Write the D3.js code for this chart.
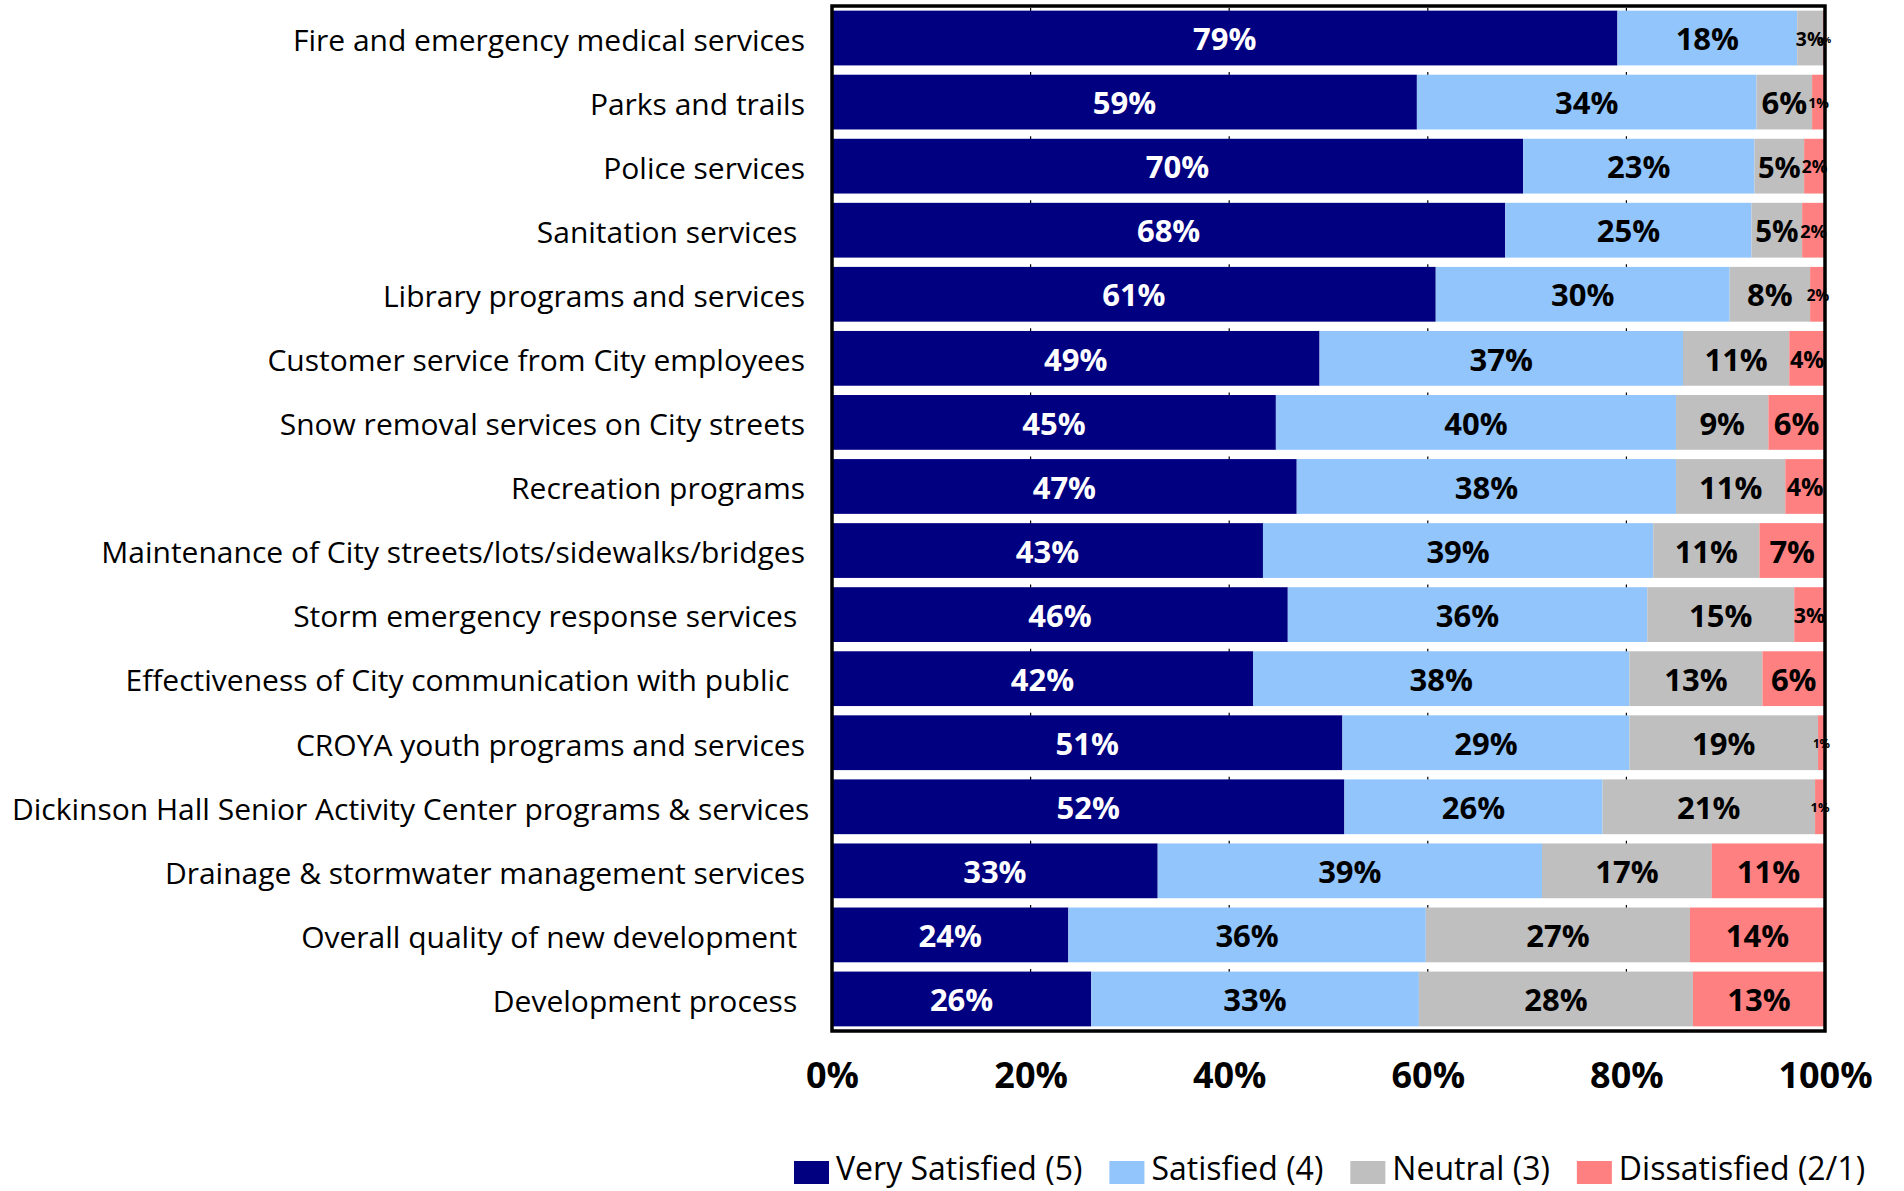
<!DOCTYPE html>
<html><head><meta charset="utf-8">
<script src="https://cdn.jsdelivr.net/npm/d3@7"></script>
<style>body{margin:0;background:#fff}svg{display:block}text{white-space:pre}</style>
</head><body><svg id="c" width="1904" height="1191"></svg>
<script>
const categories = [
  "Fire and emergency medical services",
  "Parks and trails",
  "Police services",
  "Sanitation services ",
  "Library programs and services",
  "Customer service from City employees",
  "Snow removal services on City streets",
  "Recreation programs",
  "Maintenance of City streets/lots/sidewalks/bridges",
  "Storm emergency response services ",
  "Effectiveness of City communication with public  ",
  "CROYA youth programs and services",
  "Dickinson Hall Senior Activity Center programs & services",
  "Drainage & stormwater management services",
  "Overall quality of new development ",
  "Development process "
];
const verySatisfied = [79.1, 58.9, 69.6, 67.8, 60.8, 49.1, 44.7, 46.8, 43.4, 45.9, 42.4, 51.4, 51.6, 32.8, 23.8, 26.1];
const satisfied     = [18.1, 34.2, 23.3, 24.8, 29.6, 36.6, 40.3, 38.2, 39.3, 36.2, 37.9, 28.9, 26.0, 38.7, 36.0, 33.0];
const neutral       = [ 2.6,  5.6,  5.0,  5.1,  8.1, 10.7,  9.3, 11.0, 10.7, 14.8, 13.4, 19.0, 21.4, 17.1, 26.6, 27.6];
const dissatisfied  = [ 0.2,  1.3,  2.1,  2.3,  1.6,  3.6,  5.7,  4.0,  6.6,  3.1,  6.3,  0.7,  1.0, 11.4, 13.6, 13.3];
const seriesNames  = ["Very Satisfied (5)", "Satisfied (4)", "Neutral (3)", "Dissatisfied (2/1)"];
const seriesColors = ["#000080", "#91C5FC", "#BFBFBF", "#FF8080"];
const labelColors  = ["#FFFFFF", "#000000", "#000000", "#000000"];
const xTicks = [0, 20, 40, 60, 80, 100];

const FONT = "'Open Sans', 'Liberation Sans', sans-serif";
const svg = d3.select("#c");
const plot = {left: 832, right: 1825, top: 6, bottom: 1031};

const x = d3.scaleLinear().domain([0, 100]).range([plot.left, plot.right]);
const y = d3.scaleBand().domain(categories).range([plot.top, plot.bottom]).paddingInner(0.145).paddingOuter(0.0725);

const seriesArrays = [verySatisfied, satisfied, neutral, dissatisfied];
const rows = categories.map((c, i) => {
  const r = {cat: c};
  seriesNames.forEach((s, j) => r[s] = seriesArrays[j][i]);
  return r;
});
const stacked = d3.stack().keys(seriesNames)(rows);

// dashed gridlines behind bars
const step = y.step();
svg.append("g").selectAll("line").data(xTicks.filter(t => t > 0 && t < 100)).join("line")
  .attr("x1", d => x(d)).attr("x2", d => x(d))
  .attr("y1", plot.top).attr("y2", plot.bottom)
  .attr("stroke", "#000").attr("stroke-width", 1.2)
  .attr("stroke-dasharray", `5 ${step - 5}`)
  .attr("stroke-dashoffset", -2);

// bars
const gSeries = svg.append("g").selectAll("g").data(stacked).join("g")
  .attr("fill", (d, i) => seriesColors[i]);
gSeries.selectAll("rect").data(d => d).join("rect")
  .attr("x", d => x(d[0]))
  .attr("width", d => x(d[1]) - x(d[0]))
  .attr("y", d => y(d.data.cat))
  .attr("height", y.bandwidth());

// data labels (shrunk to fit narrow segments)
const fs0 = 31;
const measure = svg.append("text").attr("font-family", FONT).attr("font-weight", "bold").attr("font-size", fs0);
const gLabels = svg.append("g");
stacked.forEach((s, si) => {
  s.forEach(d => {
    const txt = Math.round(d.data[s.key]) + "%";
    measure.text(txt);
    const w0 = measure.node().getComputedTextLength();
    const segW = x(d[1]) - x(d[0]);
    const target = Math.min(w0, segW * 0.6 + 13);
    const fs = Math.max(9, fs0 * target / w0);
    gLabels.append("text")
      .attr("x", (x(d[0]) + x(d[1])) / 2)
      .attr("y", y(d.data.cat) + y.bandwidth() / 2 + 1)
      .attr("dy", "0.36em")
      .attr("text-anchor", "middle")
      .attr("font-family", FONT).attr("font-weight", "bold")
      .attr("font-size", fs)
      .attr("fill", labelColors[si])
      .text(txt);
  });
});
measure.remove();

// category labels
const catAnchor = 805, leftMargin = 12;
const gCat = svg.append("g");
categories.forEach(c => {
  const t = gCat.append("text")
    .attr("y", y(c) + y.bandwidth() / 2 + 2)
    .attr("dy", "0.36em")
    .attr("text-anchor", "end")
    .attr("font-family", FONT).attr("font-size", 30)
    .attr("fill", "#000")
    .text(c);
  const w = t.node().getComputedTextLength();
  t.attr("x", Math.max(catAnchor, leftMargin + w));
});

// x axis
const axis = svg.append("g").attr("transform", `translate(0,${plot.bottom})`)
  .call(d3.axisBottom(x).tickValues(xTicks).tickFormat(d => d + "%").tickSize(0).tickPadding(31));
axis.select(".domain").remove();
axis.selectAll("text").attr("font-family", FONT).attr("font-weight", "bold").attr("font-size", 36).attr("fill", "#000");

// frame
svg.append("rect").attr("x", plot.left).attr("y", plot.top)
  .attr("width", plot.right - plot.left).attr("height", plot.bottom - plot.top)
  .attr("fill", "none").attr("stroke", "#000").attr("stroke-width", 3.5);

// legend
const leg = svg.append("g");
let lx = 794;
const keyW = 35, keyH = 23, keyTop = 1161, legBase = 1180;
seriesNames.forEach((n, i) => {
  leg.append("rect").attr("x", lx).attr("y", keyTop).attr("width", keyW).attr("height", keyH).attr("fill", seriesColors[i]);
  const t = leg.append("text").attr("x", lx + keyW + 7).attr("y", legBase)
    .attr("font-family", FONT).attr("font-size", 32).attr("fill", "#000").text(n);
  lx += keyW + 7 + t.node().getComputedTextLength() + 27;
});
</script></body></html>
